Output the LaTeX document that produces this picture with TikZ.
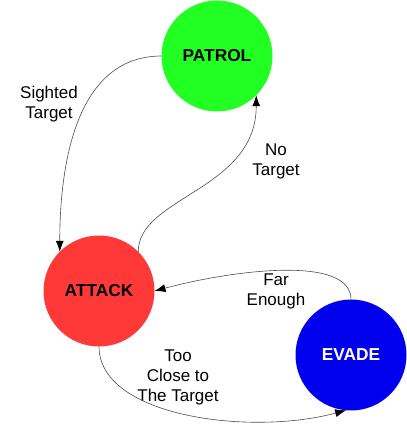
\documentclass[tikz,border=0pt]{standalone}
\usepackage{fontspec}
\setmainfont{Liberation Sans}
\usepackage{xcolor}
\usetikzlibrary{positioning,arrows.meta}

\definecolor{patrolgreen}{HTML}{22FF22}
\definecolor{attackred}{HTML}{FF3838}
\definecolor{evadeblue}{HTML}{0000EE}

\begin{document}
\begin{tikzpicture}[
    x=1pt,y=1pt,on grid,
    state/.style={circle,minimum size=111pt,inner sep=0pt,outer sep=0pt,font=\fontsize{17.3}{20}\selectfont\bfseries},
    lbl/.style={align=center,inner sep=0pt,font=\fontsize{17}{20}\selectfont},
    arrow/.style={-{Latex[length=11pt,width=8pt,black]},line width=0.6pt,draw=black!70}
    ]
    \useasboundingbox (0,0) rectangle (407,424);

    \node[state,fill=patrolgreen] (patrol) at (217,368) {PATROL};
    \node[state,fill=attackred,below left=235pt and 118pt of patrol] (attack) {ATTACK};
    \node[state,fill=evadeblue,text=white,below right=64pt and 252pt of attack] (evade) {EVADE};

    \node[lbl,below left=48pt and 168pt of patrol] (sighted) {Sighted\\Target};
    \node[lbl,below right=105pt and 59pt of patrol] (notarget) {No\\Target};
    \node[lbl,right=177pt of attack] (farenough) {Far\\Enough};
    \node[lbl,below right=86pt and 79pt of attack] (tooclose) {Too\\Close to\\The Target};

    \draw[arrow] (patrol.west) to[out=180,in=90] (attack.135);
    \draw[arrow] (attack.45) .. controls +(90:55) and +(-90:95) .. (patrol.-45);
    \draw[arrow] (evade.north) .. controls +(90:45) and +(15:80) .. (attack.east);
    \draw[arrow] (attack.south) .. controls +(-90:70) and +(195:100) .. (evade.-95);

  \end{tikzpicture}
\end{document}
